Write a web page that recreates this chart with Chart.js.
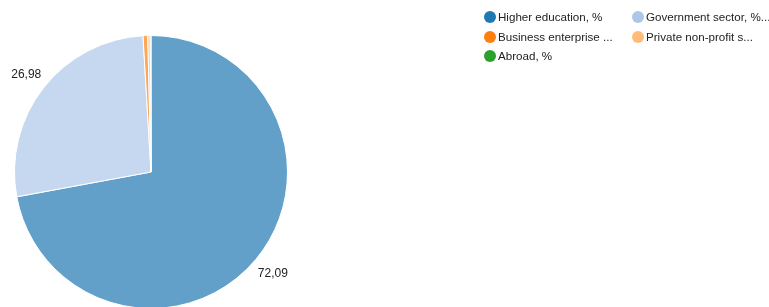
<!DOCTYPE html>
<html>
<head>
<meta charset="utf-8">
<script src="https://cdn.jsdelivr.net/npm/chart.js@4/dist/chart.umd.min.js"></script>
<style>
  html, body { margin: 0; padding: 0; background: #fff; overflow: hidden; }
  #wrap { position: absolute; left: 0; top: 0; width: 769px; height: 340px; }
  #legend { position: absolute; left: 484px; top: 7px; width: 290px; font: 11.6px "Liberation Sans", Arial, sans-serif; color: #222; }
  .item { position: absolute; height: 20px; line-height: 20px; white-space: nowrap; }
  .dot { position: absolute; left: 0; top: 4px; width: 12px; height: 12px; border-radius: 50%; }
  .txt { position: absolute; left: 14px; top: 0; }
</style>
</head>
<body>
<div id="wrap"><canvas id="chart"></canvas></div>
<div id="legend"></div>
<script>
const categories = ["Higher education, %", "Government sector, %", "Business enterprise sector, %", "Private non-profit sector, %", "Abroad, %"];
const legendLabels = ["Higher education, %", "Government sector, %...", "Business enterprise ...", "Private non-profit s...", "Abroad, %"];
const shares = [72.09, 26.98, 0.55, 0.3, 0.08];
const colors = ["#1f77b4", "#aec7e8", "#ff7f0e", "#ffbb78", "#2ca02c"];

function fade(hex, a) {
  const n = parseInt(hex.slice(1), 16);
  return `rgba(${n >> 16}, ${(n >> 8) & 255}, ${n & 255}, ${a})`;
}

// value labels outside the big slices
const outerLabels = {
  id: "outerLabels",
  afterDatasetsDraw(chart) {
    const ctx = chart.ctx;
    const meta = chart.getDatasetMeta(0);
    ctx.save();
    ctx.font = "12px 'Liberation Sans', Arial, sans-serif";
    ctx.fillStyle = "#222";
    ctx.textAlign = "center";
    ctx.textBaseline = "middle";
    meta.data.forEach((arc, i) => {
      if (shares[i] < 5) return;
      const mid = (arc.startAngle + arc.endAngle) / 2;
      const r = arc.outerRadius + 22;
      ctx.fillText(String(shares[i]).replace(".", ","), arc.x + Math.cos(mid) * r, arc.y + Math.sin(mid) * r);
    });
    ctx.restore();
  },
};

new Chart(document.getElementById("chart"), {
  type: "pie",
  data: {
    labels: categories,
    datasets: [{
      data: shares,
      backgroundColor: colors.map((c) => fade(c, 0.7)),
      borderColor: "#fff",
      borderWidth: 1,
    }],
  },
  options: {
    responsive: true,
    maintainAspectRatio: false,
    animation: false,
    layout: { padding: { left: 14, top: 35, right: 481, bottom: 31 } },
    plugins: {
      legend: { display: false },
      tooltip: { enabled: false },
    },
  },
  plugins: [outerLabels],
});

// two-column legend
const legend = document.getElementById("legend");
legendLabels.forEach((label, i) => {
  const item = document.createElement("div");
  item.className = "item";
  item.style.left = (i % 2) * 148 + "px";
  item.style.top = Math.floor(i / 2) * 19.5 + "px";
  item.innerHTML = `<span class="dot" style="background:${colors[i]}"></span><span class="txt"></span>`;
  item.querySelector(".txt").textContent = label;
  legend.appendChild(item);
});
</script>
</body>
</html>
